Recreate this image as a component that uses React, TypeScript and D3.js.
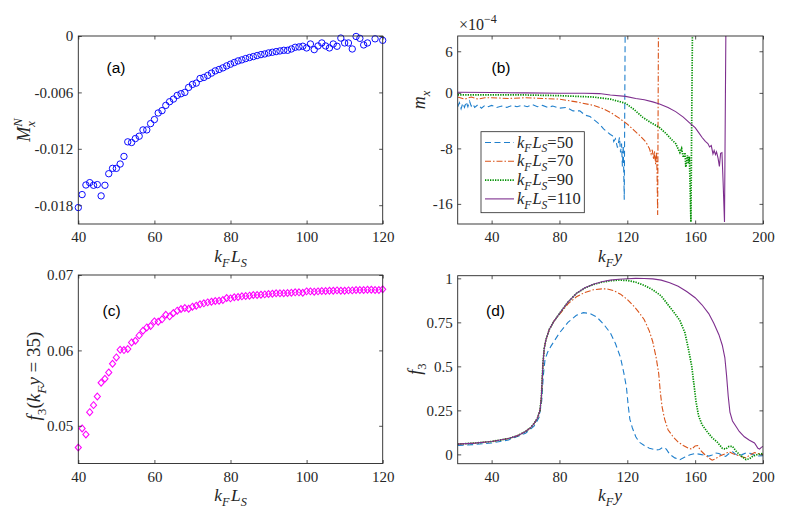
import { useEffect, useRef } from 'react';
import * as d3 from 'd3';

// ---- data ----

// (a) M_x^N vs k_F L_S  (points above 0 are outside the axes and not shown)
const aLS = [40, 41, 42, 43, 44, 45, 46, 47, 48, 49, 50, 51, 52, 53, 54, 55, 56, 57, 58, 59, 60, 61, 62, 63, 64, 65, 66, 67, 68, 69, 70, 71, 72, 73, 74, 75, 76, 77, 78, 79, 80, 81, 82, 83, 84, 85, 86, 87, 88, 89, 90, 91, 92, 93, 94, 95, 96, 97, 98, 99, 100, 101, 102, 103, 104, 105, 106, 107, 108, 109, 110, 111, 112, 113, 114, 115, 116, 118, 120];
const aMx = [
  -0.01825, -0.01687, -0.01585, -0.0156, -0.01588, -0.01581, -0.01701, -0.01588, -0.01465, -0.01408,
  -0.01408, -0.01362, -0.01281, -0.01126, -0.01133, -0.01091, -0.01066, -0.00999, -0.00999, -0.00932,
  -0.00889, -0.00819, -0.00794, -0.00738, -0.00699, -0.00671, -0.00632, -0.00614, -0.006, -0.00547,
  -0.00515, -0.00501, -0.00452, -0.00441, -0.0042, -0.00395, -0.00371, -0.00356, -0.00339, -0.00318,
  -0.003, -0.00282, -0.00265, -0.00254, -0.0024, -0.00229, -0.00219, -0.00208, -0.00198, -0.00191,
  -0.0018, -0.00173, -0.00166, -0.00159, -0.00152, -0.00152, -0.00138, -0.0012, -0.00116, -0.00109,
  -0.00127, -0.00085, -0.00145, -0.00106, -0.00074, -0.00106, -0.00127, -0.00085, -0.00109, -0.00022,
  -0.00074, -0.00074, -0.00138, -0.00005, -0.00025, -0.00095, -0.00074, -0.0003, -0.00046,
];

// (c) f_3(k_F y = 35) vs k_F L_S
const cLS = [40, 41, 42, 43, 44, 45, 46, 47, 48, 49, 50, 51, 52, 53, 54, 55, 56, 57, 58, 59, 60, 61, 62, 63, 64, 65, 66, 67, 68, 69, 70, 71, 72, 73, 74, 75, 76, 77, 78, 79, 80, 81, 82, 83, 84, 85, 86, 87, 88, 89, 90, 91, 92, 93, 94, 95, 96, 97, 98, 99, 100, 101, 102, 103, 104, 105, 106, 107, 108, 109, 110, 111, 112, 113, 114, 115, 116, 117, 118, 119, 120];
const cF3 = [
  0.04712, 0.04965, 0.04885, 0.05181, 0.05274, 0.05389, 0.05571, 0.05624, 0.05708, 0.05823,
  0.05907, 0.06009, 0.06004, 0.06018, 0.06106, 0.06128, 0.06199, 0.06261, 0.06305, 0.06323,
  0.06385, 0.06381, 0.06412, 0.06473, 0.06451, 0.06496, 0.06527, 0.06549, 0.06562, 0.06553,
  0.0658, 0.06593, 0.06611, 0.06624, 0.06637, 0.06646, 0.06655, 0.06659, 0.06668, 0.06695,
  0.0669, 0.06704, 0.06708, 0.06717, 0.06721, 0.06726, 0.06735, 0.06735, 0.06739, 0.06743,
  0.06748, 0.06752, 0.06757, 0.06757, 0.06757, 0.06761, 0.06765, 0.0677, 0.0677, 0.06765,
  0.06783, 0.06783, 0.06779, 0.06783, 0.06788, 0.06788, 0.06792, 0.06792, 0.06796, 0.06792,
  0.06792, 0.06796, 0.06796, 0.06801, 0.06801, 0.06801, 0.06805, 0.06805, 0.06801, 0.06801,
  0.0681,
];

// (b) m_x (x 1e-4) vs k_F y, one [k_F y, m_x] list per k_F L_S
const mxLS50: [number, number][] = [
  [20, -2.0], [21, -1.4], [22, -2.3], [23, -1.5], [24, -2.1], [25, -1.3], [26, -2.0], [27, -1.2],
  [28, -1.9], [29, -1.6], [30, -2.1], [32, -1.7], [34, -2.2], [36, -1.8], [38, -2.0], [40, -1.8],
  [43, -2.1], [46, -1.9], [49, -2.1], [52, -1.8], [55, -2.0], [58, -1.8], [61, -2.0], [64, -1.7],
  [67, -2.0], [70, -1.8], [73, -2.1], [76, -1.9], [80, -2.2], [84, -2.1], [88, -2.6], [92, -2.6],
  [95, -3.2], [98, -3.4], [101, -4.0], [104, -4.6], [106, -5.2], [108, -5.6], [110, -6.0],
  [111.3, -6.2], [112, -7.0], [113, -6.6], [114.2, -7.9], [115.4, -6.4], [116, -8.6], [116.6, -7.3],
  [117.1, -10.6], [117.6, -7.6], [118.2, -15.4], [118.8, 12],
];
const mxLS70: [number, number][] = [
  [20, -0.6], [24, -0.9], [28, -0.6], [32, -0.9], [36, -0.7], [40, -0.7], [50, -0.8], [60, -0.7],
  [70, -0.8], [80, -0.9], [90, -1.3], [100, -1.8], [105, -2.2], [110, -2.8], [115, -3.6],
  [120, -4.5], [124, -5.4], [128, -6.3], [131, -7.1], [133, -8.0], [134, -8.8], [134.7, -8.2],
  [135.5, -9.6], [136, -8.4], [136.7, -10.3], [137.2, -8.5], [137.5, -11.0], [137.9, -17.6],
  [138.4, 12],
];
const mxLS90: [number, number][] = [
  [20, -0.3], [40, -0.3], [60, -0.3], [80, -0.4], [90, -0.5], [100, -0.6], [110, -0.9],
  [119, -1.5], [124, -2.4], [129, -3.5], [134, -4.3], [139, -5.0], [143, -5.9], [146, -6.7],
  [148.5, -7.3], [150, -8.1], [151, -8.6], [152, -8.0], [153, -9.3], [154, -8.6], [154.5, -10.7],
  [155.5, -9.0], [156, -10.2], [156.6, -9.2], [157.5, -18.6], [158.5, 12],
];
const mxLS110: [number, number][] = [
  [20, 0.1], [40, 0.05], [60, 0], [80, -0.05], [95, -0.05], [103.5, -0.1], [110, -0.3],
  [119, -0.5], [125, -0.8], [130, -1.0], [135, -1.3], [139, -1.6], [144, -2.1], [148.5, -2.7],
  [153, -3.5], [158, -4.6], [160, -5.0], [162, -5.7], [164, -6.4], [166, -7.0], [167.5, -7.3],
  [168.5, -7.8], [169.5, -7.6], [170.5, -8.8], [171.2, -8.3], [172, -8.9], [172.6, -8.5],
  [173.5, -9.4], [174.3, -10.6], [175, -8.7], [175.8, -8.6], [176.5, -13], [177.3, -18.6],
  [178.2, 12],
];

// (d) f_3 vs k_F y; the curves for L_S = 70, 90, 110 share the rise
const f3Rise: [number, number][] = [
  [20, 0.058], [30, 0.064], [40, 0.073], [50, 0.09], [55, 0.105], [60, 0.13], [63, 0.152],
  [65, 0.175], [67, 0.205], [68.5, 0.25], [69.3, 0.32], [69.8, 0.42], [70.3, 0.52], [71, 0.6],
  [72, 0.65], [74, 0.71], [77, 0.76],
];
const f3LS50: [number, number][] = [
  [20, 0.05], [30, 0.056], [40, 0.065], [50, 0.082], [60, 0.12], [65, 0.16], [68, 0.21],
  [69.5, 0.3], [70.5, 0.45], [71.5, 0.54], [73, 0.58], [75, 0.615], [77, 0.645], [80, 0.69],
  [85, 0.75], [90, 0.79], [94, 0.805], [98, 0.8], [102, 0.78], [106, 0.74], [110, 0.69],
  [113, 0.63], [116, 0.55], [118, 0.46], [119.5, 0.38], [120.5, 0.28], [121.5, 0.2], [123, 0.15],
  [125, 0.1], [127, 0.07], [130, 0.05], [133, 0.035], [137, 0.025], [139, 0.028], [141, 0.04],
  [143, 0.03], [145, 0.0], [148, -0.02], [151, -0.03], [154, -0.015], [157, -0.002], [160, 0.005],
  [163, 0.0], [166, -0.005], [168, -0.01], [170, -0.003], [172, 0.008], [174, 0.005], [176, -0.005],
  [178, -0.012], [180, 0.005], [182, 0.015], [184, 0.0], [186, -0.01], [188, 0.0], [190, 0.008],
  [193, 0.005], [196, -0.01], [200, -0.008],
];
const f3LS70Tail: [number, number][] = [
  [80, 0.795], [85, 0.855], [90, 0.895], [95, 0.92], [100, 0.935], [105, 0.94], [108, 0.94],
  [112, 0.93], [116, 0.91], [120, 0.88], [124, 0.84], [127, 0.805], [130, 0.765], [133, 0.7],
  [135, 0.64], [137, 0.55], [138.5, 0.46], [139.5, 0.35], [140.5, 0.27], [142, 0.2], [144, 0.14],
  [147, 0.1], [150, 0.07], [153, 0.05], [156, 0.035], [158, 0.03], [160, 0.048], [161.5, 0.05],
  [163, 0.025], [165, 0.005], [168, -0.02], [170, -0.033], [172, -0.025], [174, -0.012], [177, 0.0],
  [180, 0.015], [182, 0.005], [185, -0.005], [188, -0.015], [190, -0.02], [192, -0.005],
  [195, 0.01], [197, 0.005], [200, 0.0],
];
const f3LS90Tail: [number, number][] = [
  [80, 0.8], [85, 0.865], [90, 0.914], [95, 0.945], [100, 0.965], [105, 0.978], [110, 0.986],
  [115, 0.99], [120, 0.988], [125, 0.978], [130, 0.96], [135, 0.935], [140, 0.9], [144, 0.85],
  [148, 0.8], [151, 0.76], [154, 0.69], [156, 0.6], [158, 0.5], [159.5, 0.38], [160.5, 0.3],
  [162, 0.22], [164, 0.17], [167, 0.13], [170, 0.095], [173, 0.07], [176, 0.035], [178, 0.03],
  [180, 0.045], [182, 0.045], [184, 0.02], [186, 0.0], [188, -0.015], [190, -0.03], [192, -0.025],
  [194, -0.01], [197, 0.0], [200, 0.005],
];
const f3LS110Tail: [number, number][] = [
  [80, 0.8], [85, 0.865], [90, 0.915], [95, 0.947], [100, 0.967], [105, 0.981], [110, 0.99],
  [115, 0.995], [120, 0.998], [125, 1.0], [130, 0.999], [135, 0.997], [140, 0.99], [145, 0.975],
  [150, 0.955], [155, 0.925], [160, 0.89], [164, 0.85], [168, 0.8], [171, 0.745], [174, 0.68],
  [176, 0.62], [177.5, 0.55], [178.5, 0.45], [179.5, 0.33], [180.5, 0.24], [182, 0.19],
  [184, 0.16], [186, 0.13], [189, 0.1], [192, 0.08], [195, 0.065], [197, 0.035], [198, 0.03],
  [199, 0.04], [200, 0.045],
];

const legendLS = ['50', '70', '90', '110'];

const lsTicks = [40, 60, 80, 100, 120];
const yTicksKF = [40, 80, 120, 160, 200];
const aTicks = [0, -0.006, -0.012, -0.018];
const bTicks = [6, 0, -8, -16];
const cTicks = [0.05, 0.06, 0.07];
const dTicks = [0, 0.25, 0.5, 0.75, 1];

const SERIF = "'Liberation Serif', 'Times New Roman', serif";
const SANS = "'Liberation Sans', Arial, sans-serif";
const INK = '#262626';
const TICK_FONT = 15;

type Part = { t: string; it?: boolean; sub?: boolean; sup?: boolean; dx?: number };
type G = d3.Selection<SVGGElement, unknown, null, undefined>;

// writes a small TeX-like label as tspans
function mathText(g: G, x: number, y: number, parts: Part[], size: number, anchor = 'middle', rotate = false) {
  const text = g
    .append('text')
    .attr('x', x)
    .attr('y', y)
    .style('font-family', SERIF)
    .style('font-size', `${size}px`)
    .attr('text-anchor', anchor)
    .attr('fill', INK);
  if (rotate) text.attr('transform', `rotate(-90, ${x}, ${y})`);
  let shift = 0;
  parts.forEach((p) => {
    const target = p.sub ? size * 0.3 : p.sup ? -size * 0.42 : 0;
    const ts = text.append('tspan').attr('dy', target - shift).text(p.t);
    if (p.dx) ts.attr('dx', p.dx);
    if (p.it) ts.style('font-style', 'italic');
    if (p.sub || p.sup) ts.style('font-size', `${size * 0.7}px`);
    shift = target;
  });
}

function drawAxes(
  g: G,
  x: d3.ScaleLinear<number, number>,
  y: d3.ScaleLinear<number, number>,
  xTicks: number[],
  yTicks: number[],
  yFmt: (v: number) => string,
  xPad: number,
) {
  const [x0, x1] = x.range();
  const [y0, y1] = y.range();
  const tick = 3.5;

  const bottom = g
    .append('g')
    .attr('transform', `translate(0,${y0})`)
    .call(d3.axisBottom(x).tickValues(xTicks).tickSizeInner(-tick).tickSizeOuter(0).tickPadding(xPad).tickFormat((v) => String(v)));
  const top = g
    .append('g')
    .attr('transform', `translate(0,${y1})`)
    .call(d3.axisTop(x).tickValues(xTicks).tickSizeInner(-tick).tickSizeOuter(0).tickFormat(() => ''));
  const left = g
    .append('g')
    .attr('transform', `translate(${x0},0)`)
    .call(d3.axisLeft(y).tickValues(yTicks).tickSizeInner(-tick).tickSizeOuter(0).tickPadding(5).tickFormat((v) => yFmt(v as number)));
  const right = g
    .append('g')
    .attr('transform', `translate(${x1},0)`)
    .call(d3.axisRight(y).tickValues(yTicks).tickSizeInner(-tick).tickSizeOuter(0).tickFormat(() => ''));

  [bottom, top, left, right].forEach((a) => {
    a.select('.domain').remove();
    a.attr('font-family', SERIF).attr('font-size', TICK_FONT);
    a.selectAll('line').attr('stroke', INK).attr('stroke-width', 0.8);
    a.selectAll('text')
      .attr('fill', INK)
      .style('font-family', SERIF)
      .style('font-size', `${TICK_FONT}px`);
  });

  g.append('rect')
    .attr('x', x0)
    .attr('y', y1)
    .attr('width', x1 - x0)
    .attr('height', y0 - y1)
    .attr('fill', 'none')
    .attr('stroke', INK)
    .attr('stroke-width', 0.9);
}

const series = [
  { color: '#1f7fcc', dash: '6,3.5', width: 1.1 },
  { color: '#D95319', dash: '6,2,1.5,2', width: 1.1 },
  { color: '#009000', dash: '1.3,1.2', width: 1.7 },
  { color: '#7E2F8E', dash: null, width: 1.1 },
];

function panelLabel(g: G, x: number, y: number, t: string) {
  g.append('text')
    .attr('x', x)
    .attr('y', y)
    .style('font-family', SANS)
    .style('font-size', '15.5px')
    .attr('fill', '#000')
    .text(t);
}

export default function App() {
  const svgRef = useRef<SVGSVGElement>(null);

  useEffect(() => {
    if (!svgRef.current) return;
    const svg = d3.select(svgRef.current);
    svg.selectAll('*').remove();
    const root = svg.append('g') as G;
    const defs = svg.append('defs');

    const kFLS: Part[] = [{ t: 'k', it: true }, { t: 'F', it: true, sub: true }, { t: 'L', it: true, dx: 1.5 }, { t: 'S', it: true, sub: true }];
    const kFy: Part[] = [{ t: 'k', it: true }, { t: 'F', it: true, sub: true }, { t: 'y', it: true, dx: 1 }];

    // ---------- (a) ----------
    const xa = d3.scaleLinear().domain([40, 120]).range([78.3, 382.7]);
    const ya = d3.scaleLinear().domain([-0.02, 0]).range([224, 36]);
    const ga = root.append('g') as G;
    ga.selectAll('circle')
      .data(aLS.map((k, i) => [k, aMx[i]]))
      .enter()
      .append('circle')
      .attr('cx', (d) => xa(d[0]))
      .attr('cy', (d) => ya(d[1]))
      .attr('r', 3.2)
      .attr('fill', 'none')
      .attr('stroke', '#0000ff')
      .attr('stroke-width', 0.95);
    drawAxes(ga, xa, ya, lsTicks, aTicks, (v) => (v === 0 ? '0' : v.toFixed(3)), 7.5);
    panelLabel(ga, 106.5, 73, '(a)');
    mathText(ga, 230.5, 262, kFLS, 17.5);
    mathText(ga, 30, 130, [{ t: 'M', it: true }, { t: 'N', it: true, sup: true }, { t: 'x', it: true, sub: true, dx: -8.5 }], 18, 'middle', true);

    // ---------- (b) ----------
    const xb = d3.scaleLinear().domain([20, 200]).range([457.7, 763]);
    const yb = d3.scaleLinear().domain([-18.9, 8.2]).range([224, 36]);
    const gb = root.append('g') as G;
    defs.append('clipPath').attr('id', 'clip-b').append('rect').attr('x', 457.7).attr('y', 36).attr('width', 763 - 457.7).attr('height', 188);
    const lineB = d3.line<[number, number]>().x((d) => xb(d[0])).y((d) => yb(d[1]));
    const bData = [mxLS50, mxLS70, mxLS90, mxLS110];
    const bLines = gb.append('g').attr('clip-path', 'url(#clip-b)');
    bData.forEach((d, i) => {
      const s = series[i];
      const p = bLines
        .append('path')
        .attr('d', lineB(d))
        .attr('fill', 'none')
        .attr('stroke', s.color)
        .attr('stroke-width', s.width);
      if (s.dash) p.attr('stroke-dasharray', s.dash);
    });
    drawAxes(gb, xb, yb, yTicksKF, bTicks, (v) => String(v), 7.5);
    panelLabel(gb, 491.5, 73, '(b)');
    const mult = gb
      .append('text')
      .attr('x', 459)
      .attr('y', 30)
      .style('font-family', SERIF)
      .style('font-size', '16px')
      .attr('fill', INK);
    mult.append('tspan').text('\u00d710');
    mult.append('tspan').attr('dy', -7).style('font-size', '12px').text('\u22124');
    mathText(gb, 610, 262, kFy, 17.5);
    mathText(gb, 425, 100, [{ t: 'm', it: true }, { t: 'x', it: true, sub: true }], 18, 'middle', true);

    // legend
    const lg = gb.append('g') as G;
    lg.append('rect')
      .attr('x', 481)
      .attr('y', 131.7)
      .attr('width', 103.3)
      .attr('height', 81)
      .attr('fill', '#fff')
      .attr('stroke', INK)
      .attr('stroke-width', 0.8);
    legendLS.forEach((ls, i) => {
      const y = 142.5 + i * 18.8;
      const s = series[i];
      const l = lg.append('line').attr('x1', 485).attr('x2', 514).attr('y1', y).attr('y2', y).attr('stroke', s.color).attr('stroke-width', s.width);
      if (s.dash) l.attr('stroke-dasharray', s.dash);
      mathText(lg, 517, y + 5, [{ t: 'k', it: true }, { t: 'F', it: true, sub: true }, { t: 'L', it: true, dx: 1 }, { t: 'S', it: true, sub: true }, { t: '=' + ls }], 16.5, 'start');
    });

    // ---------- (c) ----------
    const xc = d3.scaleLinear().domain([40, 120]).range([78.3, 382.7]);
    const yc = d3.scaleLinear().domain([0.045, 0.07]).range([463.5, 275]);
    const gc = root.append('g') as G;
    const diamond = d3.symbol().type(d3.symbolDiamond2).size(24);
    gc.selectAll('path.pt')
      .data(cLS.map((k, i) => [k, cF3[i]]))
      .enter()
      .append('path')
      .attr('class', 'pt')
      .attr('d', diamond)
      .attr('transform', (d) => `translate(${xc(d[0])},${yc(d[1])}) scale(1,1.12)`)
      .attr('fill', 'none')
      .attr('stroke', '#ff00ff')
      .attr('stroke-width', 1);
    drawAxes(gc, xc, yc, lsTicks, cTicks, (v) => v.toFixed(2), 7.5);
    panelLabel(gc, 102.5, 316, '(c)');
    mathText(gc, 230.5, 501, kFLS, 17.5);
    mathText(
      gc,
      40,
      376,
      [
        { t: 'f', it: true },
        { t: '3', sub: true },
        { t: '(' },
        { t: 'k', it: true },
        { t: 'F', it: true, sub: true },
        { t: 'y', it: true },
        { t: ' = 35)' },
      ],
      19,
      'middle',
      true,
    );

    // ---------- (d) ----------
    const xd = d3.scaleLinear().domain([20, 200]).range([457.7, 763]);
    const yd = d3.scaleLinear().domain([-0.053, 1.015]).range([463.7, 275.7]);
    const gd = root.append('g') as G;
    defs.append('clipPath').attr('id', 'clip-d').append('rect').attr('x', 457.7).attr('y', 275.7).attr('width', 763 - 457.7).attr('height', 188);
    const lineD = d3.line<[number, number]>().x((d) => xd(d[0])).y((d) => yd(d[1]));
    const dData = [f3LS50, f3Rise.concat(f3LS70Tail), f3Rise.concat(f3LS90Tail), f3Rise.concat(f3LS110Tail)];
    const dLines = gd.append('g').attr('clip-path', 'url(#clip-d)');
    dData.forEach((d, i) => {
      const s = series[i];
      const p = dLines
        .append('path')
        .attr('d', lineD(d))
        .attr('fill', 'none')
        .attr('stroke', s.color)
        .attr('stroke-width', s.width);
      if (s.dash) p.attr('stroke-dasharray', s.dash);
    });
    drawAxes(gd, xd, yd, yTicksKF, dTicks, (v) => String(v), 7.5);
    panelLabel(gd, 486, 316, '(d)');
    mathText(gd, 610, 501, kFy, 17.5);
    mathText(gd, 421, 369, [{ t: 'f', it: true }, { t: '3', sub: true }], 18, 'middle', true);
  }, []);

  return (
    <svg
      ref={svgRef}
      width={803}
      height={509}
      style={{ position: 'absolute', left: 0, top: 0, background: '#fff' }}
    />
  );
}
